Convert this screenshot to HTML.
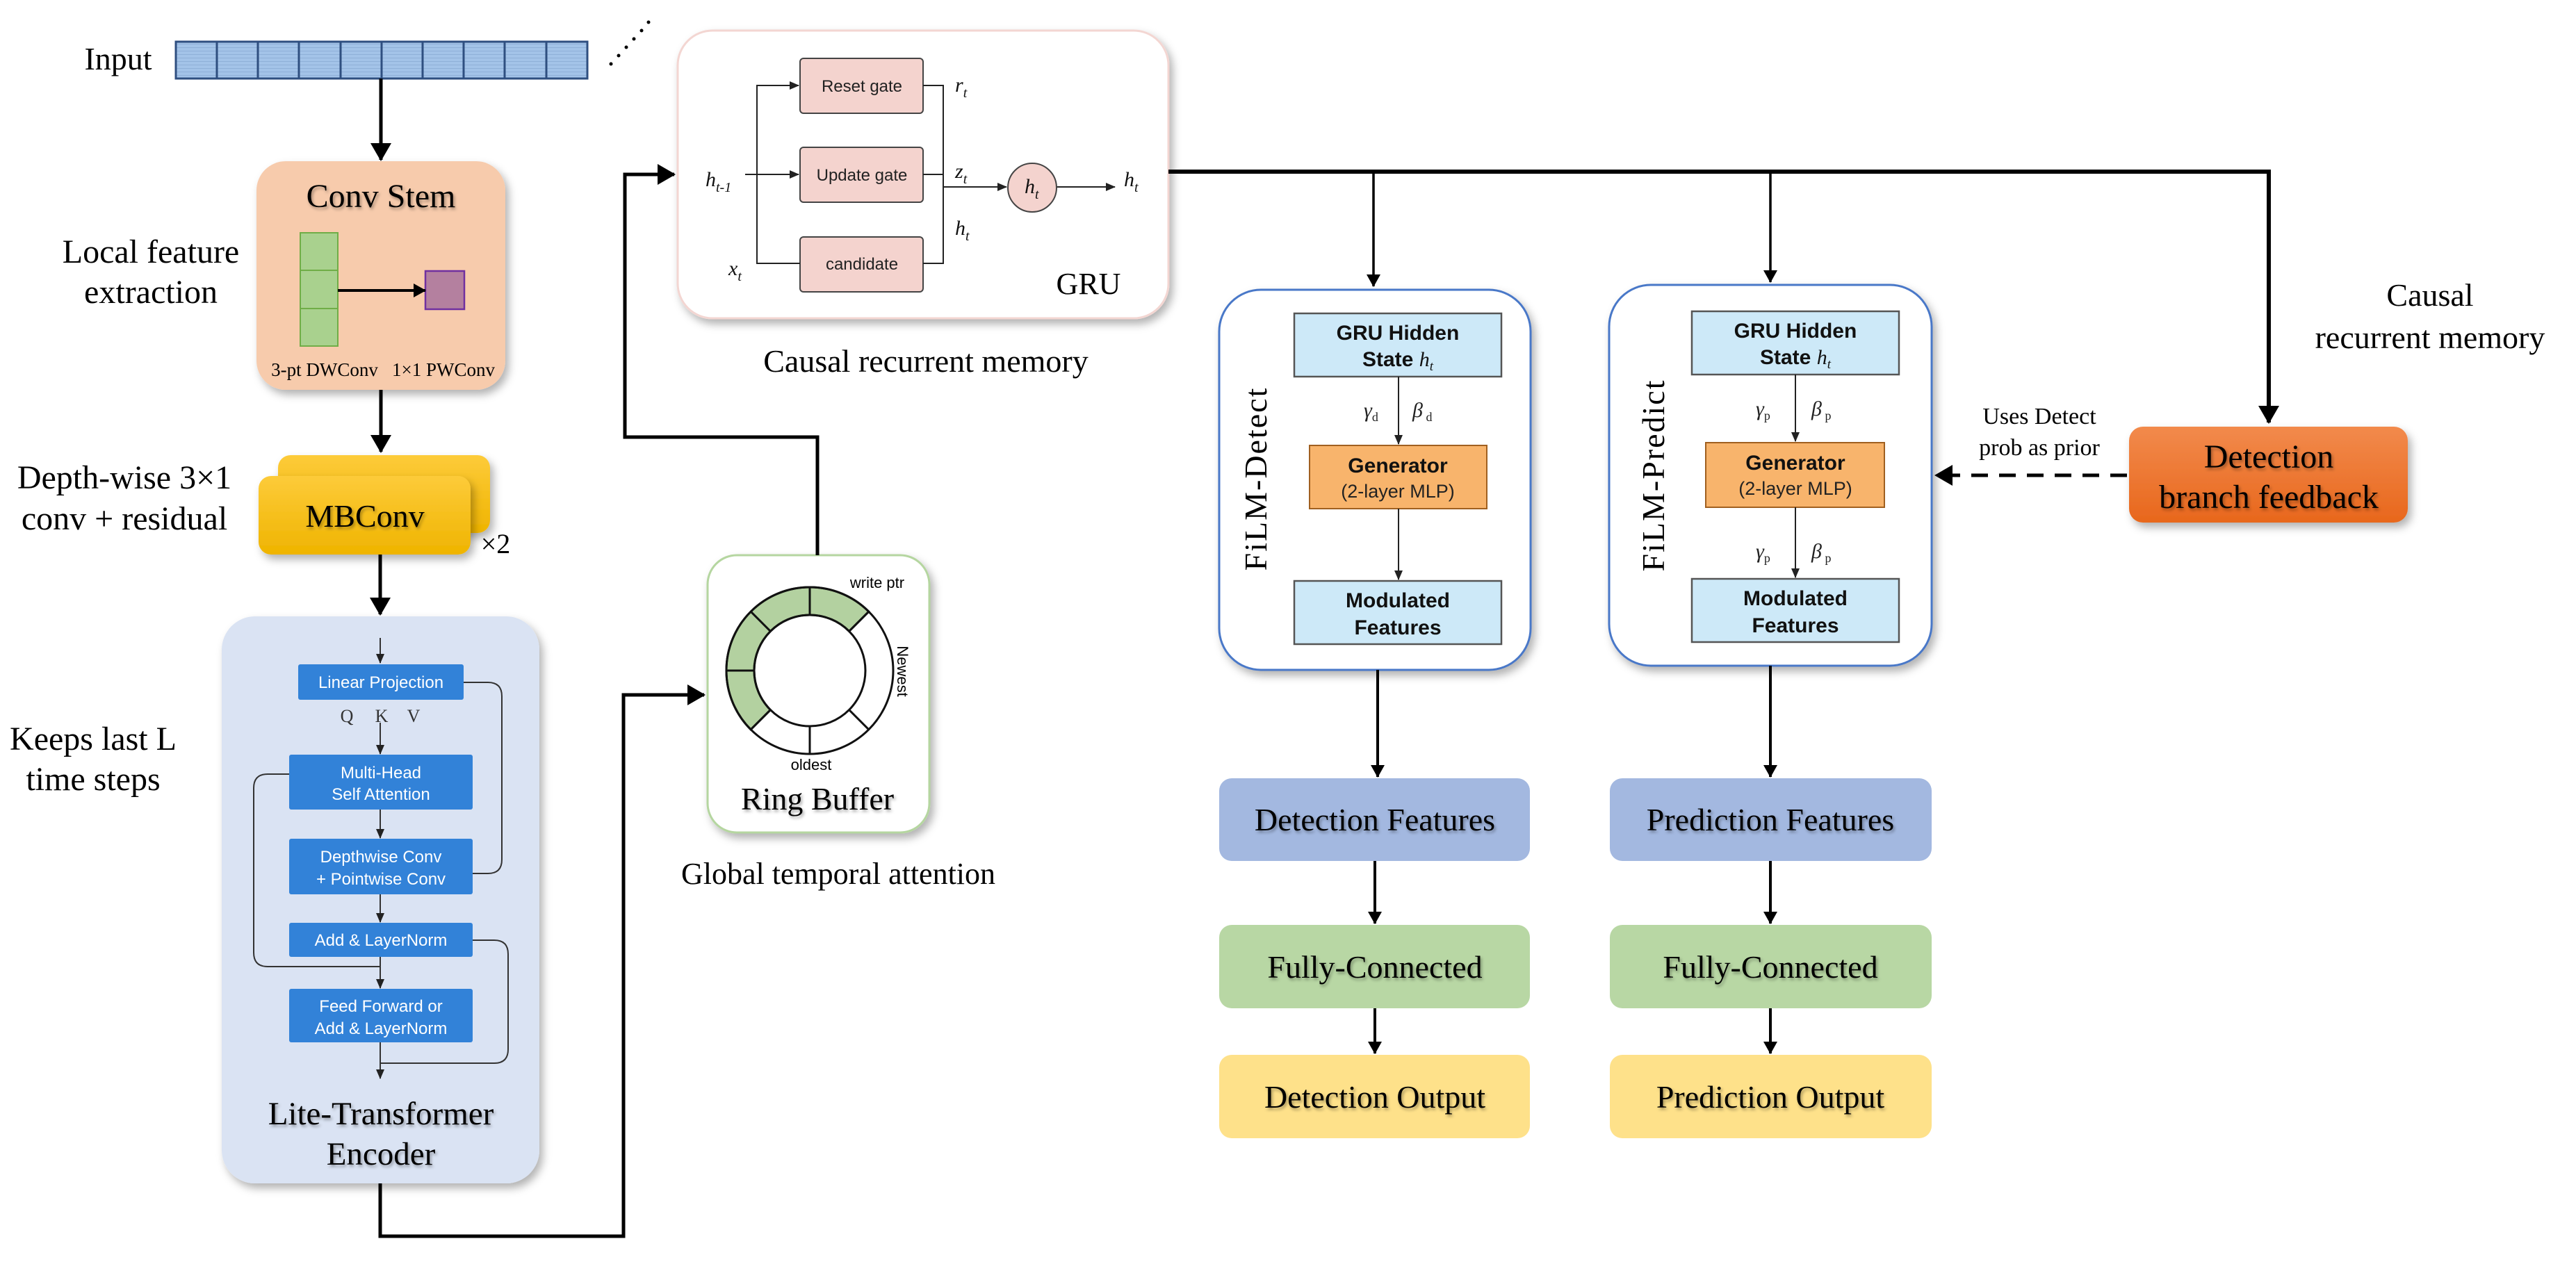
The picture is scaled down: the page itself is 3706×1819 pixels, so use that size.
<!DOCTYPE html>
<html><head><meta charset="utf-8"><style>
html,body{margin:0;padding:0;background:#fff;}
svg{display:block;}
.serif{font-family:"Liberation Serif",serif;}
.sans{font-family:"Liberation Sans",sans-serif;}
</style></head><body>
<svg width="3706" height="1819" viewBox="0 0 3706 1819" xmlns="http://www.w3.org/2000/svg">
<defs>
<filter id="sh" x="-10%" y="-10%" width="130%" height="130%"><feDropShadow dx="5" dy="7" stdDeviation="6" flood-color="#000" flood-opacity="0.3"/></filter>
<filter id="ts" x="-5%" y="-20%" width="110%" height="150%"><feDropShadow dx="2" dy="3" stdDeviation="2" flood-color="#000" flood-opacity="0.35"/></filter>
<marker id="ah" markerWidth="10" markerHeight="10" refX="9" refY="5" orient="auto" markerUnits="userSpaceOnUse" viewBox="0 0 10 10"><path d="M0,0 L10,5 L0,10 z" fill="#000"/></marker>
<marker id="aL" markerWidth="26" markerHeight="30" refX="24" refY="15" orient="auto" markerUnits="userSpaceOnUse"><path d="M0,0 L26,15 L0,30 z" fill="#000"/></marker>
<marker id="aM" markerWidth="18" markerHeight="20" refX="17" refY="10" orient="auto" markerUnits="userSpaceOnUse"><path d="M0,0 L18,10 L0,20 z" fill="#000"/></marker>
<marker id="aS" markerWidth="14" markerHeight="14" refX="13" refY="7" orient="auto" markerUnits="userSpaceOnUse"><path d="M0,1 L14,7 L0,13 z" fill="#222"/></marker>
<linearGradient id="gy" x1="0" y1="0" x2="0" y2="1"><stop offset="0" stop-color="#fdcb3a"/><stop offset="1" stop-color="#efb400"/></linearGradient>
<linearGradient id="go" x1="0" y1="0" x2="0" y2="1"><stop offset="0" stop-color="#f28a4c"/><stop offset="1" stop-color="#e8671c"/></linearGradient>
<pattern id="stripe" width="8" height="5" patternUnits="userSpaceOnUse"><rect width="8" height="5" fill="#a3c3e8"/><rect y="3" width="8" height="1" fill="#8fb0d8"/></pattern>
</defs>

<!-- Input -->
<text x="170" y="100" class="serif" font-size="46" text-anchor="middle">Input</text>
<rect x="253" y="60" width="592" height="53" fill="url(#stripe)" stroke="#2f4f80" stroke-width="3"/>
<g stroke="#2f4f80" stroke-width="3">
<line x1="312" y1="60" x2="312" y2="113"/><line x1="371" y1="60" x2="371" y2="113"/><line x1="430" y1="60" x2="430" y2="113"/><line x1="490" y1="60" x2="490" y2="113"/><line x1="549" y1="60" x2="549" y2="113"/><line x1="608" y1="60" x2="608" y2="113"/><line x1="667" y1="60" x2="667" y2="113"/><line x1="726" y1="60" x2="726" y2="113"/><line x1="786" y1="60" x2="786" y2="113"/>
</g>
<g fill="#000"><circle cx="879" cy="92" r="2.5"/><circle cx="890" cy="80" r="2.5"/><circle cx="901" cy="68" r="2.5"/><circle cx="912" cy="56" r="2.5"/><circle cx="923" cy="44" r="2.5"/><circle cx="933" cy="32" r="2.5"/></g>
<line x1="548" y1="113" x2="548" y2="230" stroke="#000" stroke-width="5" marker-end="url(#aL)"/>

<!-- Conv Stem -->
<rect x="369" y="232" width="358" height="329" rx="42" fill="#f7cbac" filter="url(#sh)"/>
<text x="548" y="298" class="serif" font-size="48" text-anchor="middle" filter="url(#ts)">Conv Stem</text>
<rect x="432" y="335" width="54" height="163" fill="#a9d18e" stroke="#70ad47" stroke-width="2"/>
<line x1="432" y1="389" x2="486" y2="389" stroke="#70ad47" stroke-width="2"/>
<line x1="432" y1="444" x2="486" y2="444" stroke="#70ad47" stroke-width="2"/>
<rect x="612" y="390" width="56" height="55" fill="#b4809f" stroke="#7030a0" stroke-width="2.5"/>
<line x1="486" y1="418" x2="612" y2="418" stroke="#000" stroke-width="4" marker-end="url(#aM)"/>
<text x="467" y="541" class="serif" font-size="27" text-anchor="middle">3-pt DWConv</text>
<text x="638" y="541" class="serif" font-size="27" text-anchor="middle">1×1 PWConv</text>
<text x="217" y="378" class="serif" font-size="48" text-anchor="middle">Local feature</text>
<text x="217" y="436" class="serif" font-size="48" text-anchor="middle">extraction</text>
<line x1="548" y1="561" x2="548" y2="650" stroke="#000" stroke-width="5" marker-end="url(#aL)"/>

<!-- MBConv -->
<rect x="400" y="655" width="305" height="112" rx="18" fill="url(#gy)" filter="url(#sh)"/>
<rect x="372" y="685" width="305" height="113" rx="18" fill="url(#gy)" filter="url(#sh)"/>
<text x="525" y="758" class="serif" font-size="46" text-anchor="middle" filter="url(#ts)">MBConv</text>
<text x="713" y="796" class="serif" font-size="40" text-anchor="middle">×2</text>
<text x="179" y="703" class="serif" font-size="48" text-anchor="middle">Depth-wise 3×1</text>
<text x="179" y="762" class="serif" font-size="48" text-anchor="middle">conv + residual</text>
<line x1="547" y1="798" x2="547" y2="884" stroke="#000" stroke-width="5" marker-end="url(#aL)"/>

<!-- Keeps last -->
<text x="134" y="1079" class="serif" font-size="48" text-anchor="middle">Keeps last L</text>
<text x="134" y="1137" class="serif" font-size="48" text-anchor="middle">time steps</text>

<!-- Transformer -->
<rect x="319" y="887" width="457" height="816" rx="48" fill="#dae3f3" filter="url(#sh)"/>
<g stroke="#333" stroke-width="2" fill="none">
<line x1="547" y1="918" x2="547" y2="954" marker-end="url(#aS)"/>
<line x1="547" y1="1040" x2="547" y2="1085" marker-end="url(#aS)"/>
<line x1="547" y1="1165" x2="547" y2="1206" marker-end="url(#aS)"/>
<line x1="547" y1="1287" x2="547" y2="1327" marker-end="url(#aS)"/>
<line x1="547" y1="1377" x2="547" y2="1422" marker-end="url(#aS)"/>
<line x1="547" y1="1500" x2="547" y2="1552" marker-end="url(#aS)"/>
<path d="M667,982 H702 Q722,982 722,1002 V1237 Q722,1257 702,1257 H680"/>
<path d="M416,1114 H385 Q365,1114 365,1134 V1371 Q365,1391 385,1391 H547"/>
<path d="M680,1353 H711 Q731,1353 731,1373 V1510 Q731,1530 711,1530 H547"/>
</g>
<g fill="#3282d8">
<rect x="429" y="956" width="238" height="51" rx="3"/>
<rect x="416" y="1086" width="264" height="79" rx="3"/>
<rect x="416" y="1207" width="264" height="80" rx="3"/>
<rect x="416" y="1328" width="264" height="49" rx="3"/>
<rect x="416" y="1423" width="264" height="77" rx="3"/>
</g>
<g class="sans" font-size="24" fill="#fff" text-anchor="middle">
<text x="548" y="990">Linear Projection</text>
<text x="548" y="1120">Multi-Head</text><text x="548" y="1151">Self Attention</text>
<text x="548" y="1241">Depthwise Conv</text><text x="548" y="1273">+ Pointwise Conv</text>
<text x="548" y="1361">Add &amp; LayerNorm</text>
<text x="548" y="1456">Feed Forward or</text><text x="548" y="1488">Add &amp; LayerNorm</text>
</g>
<g class="serif" font-size="26" fill="#333" text-anchor="middle"><text x="499" y="1039">Q</text><text x="549" y="1039">K</text><text x="595" y="1039">V</text></g>
<text x="548" y="1618" class="serif" font-size="47" text-anchor="middle" filter="url(#ts)">Lite-Transformer</text>
<text x="548" y="1676" class="serif" font-size="47" text-anchor="middle" filter="url(#ts)">Encoder</text>

<!-- bottom connector -->
<path d="M547,1703 V1779 H897 V1000 H1013" fill="none" stroke="#000" stroke-width="5" marker-end="url(#aL)"/>

<!-- Ring buffer -->
<rect x="1018" y="799" width="319" height="399" rx="42" fill="#fff" stroke="#b5d6a0" stroke-width="3" filter="url(#sh)"/>
<g transform="translate(1165,965)" stroke="#111" stroke-width="3">
<path d="M84.9,-84.9 A120,120 0 0 0 -84.9,84.9 L-56.6,56.6 A80,80 0 0 1 56.6,-56.6 Z" fill="#b3d1a0"/>
<circle r="120" fill="none"/><circle r="80" fill="none"/>
<line x1="0" y1="-80" x2="0" y2="-120"/><line x1="0" y1="80" x2="0" y2="120"/>
<line x1="-80" y1="0" x2="-120" y2="0"/>
<line x1="56.6" y1="-56.6" x2="84.9" y2="-84.9"/><line x1="-56.6" y1="-56.6" x2="-84.9" y2="-84.9"/>
<line x1="56.6" y1="56.6" x2="84.9" y2="84.9"/><line x1="-56.6" y1="56.6" x2="-84.9" y2="84.9"/>
</g>
<text x="1262" y="846" class="sans" font-size="22" text-anchor="middle">write ptr</text>
<text transform="translate(1291,966) rotate(90)" class="sans" font-size="22" text-anchor="middle">Newest</text>
<text x="1167" y="1108" class="sans" font-size="22" text-anchor="middle">oldest</text>
<text x="1176" y="1165" class="serif" font-size="46" text-anchor="middle" filter="url(#ts)">Ring Buffer</text>
<text x="1206" y="1272" class="serif" font-size="44" text-anchor="middle">Global temporal attention</text>

<!-- feedback to GRU -->
<path d="M1176,799 V629 H899 V251 H970" fill="none" stroke="#000" stroke-width="5" marker-end="url(#aL)"/>

<!-- GRU -->
<rect x="975" y="44" width="706" height="414" rx="50" fill="#fff" stroke="#f3d6d2" stroke-width="3" filter="url(#sh)"/>
<g fill="#f4d3ce" stroke="#444" stroke-width="2">
<rect x="1151" y="84" width="177" height="79" rx="5"/>
<rect x="1151" y="212" width="177" height="79" rx="5"/>
<rect x="1151" y="341" width="177" height="79" rx="5"/>
</g>
<g class="sans" font-size="24" text-anchor="middle" fill="#222">
<text x="1240" y="132">Reset gate</text><text x="1240" y="260">Update gate</text><text x="1240" y="388">candidate</text>
</g>
<g stroke="#222" stroke-width="2" fill="none">
<path d="M1151,379 H1089 V123 H1149" marker-end="url(#aS)"/>
<line x1="1072" y1="251" x2="1149" y2="251" marker-end="url(#aS)"/>
<path d="M1328,123 H1357 V379 H1328"/>
<line x1="1328" y1="251" x2="1357" y2="251"/>
<line x1="1357" y1="269" x2="1448" y2="269" marker-end="url(#aS)"/>
<line x1="1520" y1="269" x2="1604" y2="269" marker-end="url(#aS)"/>
</g>
<circle cx="1485" cy="270" r="35" fill="#f4d3ce" stroke="#444" stroke-width="2"/>
<g class="serif" font-style="italic" font-size="30" fill="#111">
<text x="1015" y="268">h<tspan font-size="20" dy="8">t-1</tspan></text>
<text x="1048" y="396">x<tspan font-size="20" dy="8">t</tspan></text>
<text x="1374" y="132">r<tspan font-size="20" dy="8">t</tspan></text>
<text x="1374" y="256">z<tspan font-size="20" dy="8">t</tspan></text>
<text x="1374" y="338">h<tspan font-size="20" dy="8">t</tspan></text>
<text x="1474" y="278">h<tspan font-size="20" dy="8">t</tspan></text>
<text x="1617" y="268">h<tspan font-size="20" dy="8">t</tspan></text>
</g>
<text x="1566" y="423" class="serif" font-size="44" text-anchor="middle">GRU</text>
<text x="1332" y="535" class="serif" font-size="46" text-anchor="middle">Causal recurrent memory</text>

<!-- main h_t line -->
<path d="M1681,247 H3264 V608" fill="none" stroke="#000" stroke-width="6" marker-end="url(#aL)"/>
<line x1="1976" y1="247" x2="1976" y2="412" stroke="#000" stroke-width="3.5" marker-end="url(#aM)"/>
<line x1="2547" y1="247" x2="2547" y2="406" stroke="#000" stroke-width="3.5" marker-end="url(#aM)"/>

<!-- Causal recurrent memory right -->
<text x="3496" y="440" class="serif" font-size="46" text-anchor="middle">Causal</text>
<text x="3496" y="501" class="serif" font-size="46" text-anchor="middle">recurrent memory</text>

<!-- Detection feedback -->
<rect x="3063" y="614" width="401" height="138" rx="20" fill="url(#go)" filter="url(#sh)"/>
<text x="3264" y="673" class="serif" font-size="48" text-anchor="middle" filter="url(#ts)">Detection</text>
<text x="3264" y="731" class="serif" font-size="48" text-anchor="middle" filter="url(#ts)">branch feedback</text>
<line x1="3060" y1="684" x2="2785" y2="684" stroke="#000" stroke-width="5" stroke-dasharray="24,16" marker-end="url(#aL)"/>
<text x="2934" y="610" class="serif" font-size="34" text-anchor="middle">Uses Detect</text>
<text x="2934" y="655" class="serif" font-size="34" text-anchor="middle">prob as prior</text>

<!-- FiLM Detect -->
<rect x="1754" y="417" width="448" height="547" rx="60" fill="#fff" stroke="#4a78c8" stroke-width="3" filter="url(#sh)"/>
<text transform="translate(1822,689) rotate(-90)" class="serif" font-size="46" text-anchor="middle" letter-spacing="2">FiLM-Detect</text>
<rect x="1862" y="451" width="298" height="91" fill="#cde9f8" stroke="#555" stroke-width="2.5"/>
<rect x="1884" y="641" width="255" height="91" fill="#f8b46c" stroke="#a06020" stroke-width="2"/>
<rect x="1862" y="836" width="298" height="91" fill="#cde9f8" stroke="#555" stroke-width="2.5"/>
<g stroke="#222" stroke-width="2"><line x1="2012" y1="542" x2="2012" y2="639" marker-end="url(#aS)"/><line x1="2012" y1="732" x2="2012" y2="834" marker-end="url(#aS)"/></g>
<g class="sans" font-size="30" text-anchor="middle" font-weight="bold" fill="#111">
<text x="2011" y="489">GRU Hidden</text><text x="2011" y="527">State <tspan class="serif" font-style="italic" font-weight="normal">h<tspan font-size="19" dy="6">t</tspan></tspan></text>
<text x="2011" y="680">Generator</text>
<text x="2011" y="874">Modulated</text><text x="2011" y="913">Features</text>
</g>
<text x="2011" y="716" class="sans" font-size="27" text-anchor="middle" fill="#222">(2-layer MLP)</text>
<g class="serif" font-style="italic" font-size="30" fill="#222"><text x="1962" y="600">γ<tspan font-size="18" font-style="normal" dy="6">d</tspan></text><text x="2032" y="600">β<tspan font-size="18" font-style="normal" dy="6"> d</tspan></text></g>

<!-- FiLM Predict -->
<rect x="2315" y="410" width="464" height="548" rx="60" fill="#fff" stroke="#4a78c8" stroke-width="3" filter="url(#sh)"/>
<text transform="translate(2394,684) rotate(-90)" class="serif" font-size="46" text-anchor="middle" letter-spacing="2">FiLM-Predict</text>
<rect x="2434" y="448" width="298" height="91" fill="#cde9f8" stroke="#555" stroke-width="2.5"/>
<rect x="2454" y="637" width="257" height="93" fill="#f8b46c" stroke="#a06020" stroke-width="2"/>
<rect x="2434" y="833" width="298" height="91" fill="#cde9f8" stroke="#555" stroke-width="2.5"/>
<g stroke="#222" stroke-width="2"><line x1="2583" y1="539" x2="2583" y2="635" marker-end="url(#aS)"/><line x1="2583" y1="730" x2="2583" y2="831" marker-end="url(#aS)"/></g>
<g class="sans" font-size="30" text-anchor="middle" font-weight="bold" fill="#111">
<text x="2583" y="486">GRU Hidden</text><text x="2583" y="524">State <tspan class="serif" font-style="italic" font-weight="normal">h<tspan font-size="19" dy="6">t</tspan></tspan></text>
<text x="2583" y="676">Generator</text>
<text x="2583" y="871">Modulated</text><text x="2583" y="910">Features</text>
</g>
<text x="2583" y="712" class="sans" font-size="27" text-anchor="middle" fill="#222">(2-layer MLP)</text>
<g class="serif" font-style="italic" font-size="30" fill="#222">
<text x="2526" y="598">γ<tspan font-size="18" font-style="normal" dy="6">p</tspan></text><text x="2606" y="598">β<tspan font-size="18" font-style="normal" dy="6"> p</tspan></text>
<text x="2526" y="803">γ<tspan font-size="18" font-style="normal" dy="6">p</tspan></text><text x="2606" y="803">β<tspan font-size="18" font-style="normal" dy="6"> p</tspan></text>
</g>

<!-- Output columns -->
<g stroke="#000" stroke-width="4">
<line x1="1982" y1="964" x2="1982" y2="1118" marker-end="url(#aM)"/>
<line x1="1978" y1="1239" x2="1978" y2="1329" marker-end="url(#aM)"/>
<line x1="1978" y1="1451" x2="1978" y2="1516" marker-end="url(#aM)"/>
<line x1="2547" y1="958" x2="2547" y2="1118" marker-end="url(#aM)"/>
<line x1="2547" y1="1239" x2="2547" y2="1329" marker-end="url(#aM)"/>
<line x1="2547" y1="1451" x2="2547" y2="1516" marker-end="url(#aM)"/>
</g>
<rect x="1754" y="1120" width="447" height="119" rx="18" fill="#a3b8e0"/>
<rect x="1754" y="1331" width="447" height="120" rx="18" fill="#b8d7a4"/>
<rect x="1754" y="1518" width="447" height="120" rx="18" fill="#fee18a"/>
<rect x="2316" y="1120" width="463" height="119" rx="18" fill="#a3b8e0"/>
<rect x="2316" y="1331" width="463" height="120" rx="18" fill="#b8d7a4"/>
<rect x="2316" y="1518" width="463" height="120" rx="18" fill="#fee18a"/>
<g class="serif" font-size="46" text-anchor="middle" filter="url(#ts)">
<text x="1978" y="1195">Detection Features</text>
<text x="1978" y="1407">Fully-Connected</text>
<text x="1978" y="1594">Detection Output</text>
<text x="2547" y="1195">Prediction Features</text>
<text x="2547" y="1407">Fully-Connected</text>
<text x="2547" y="1594">Prediction Output</text>
</g>
</svg>
</body></html>
